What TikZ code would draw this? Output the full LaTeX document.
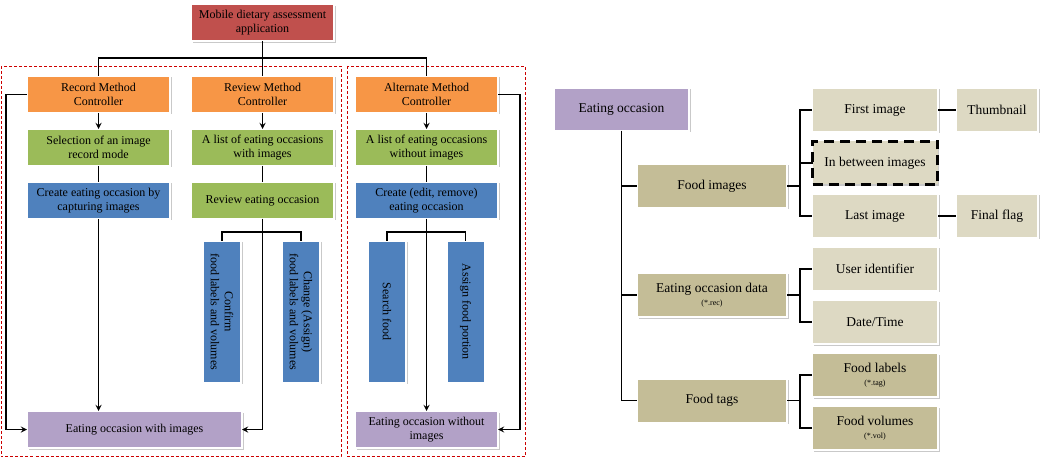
\documentclass[tikz,border=0pt]{standalone}
\usepackage{fontspec}
\setmainfont{Liberation Serif}
\usetikzlibrary{positioning,shadows}

\definecolor{appred}{HTML}{C0504D}
\definecolor{ctrlorange}{HTML}{F79646}
\definecolor{listgreen}{HTML}{9BBB59}
\definecolor{actblue}{HTML}{4F81BD}
\definecolor{occpurple}{HTML}{B2A1C7}
\definecolor{darktan}{HTML}{C4BD97}
\definecolor{lighttan}{HTML}{DDD9C3}

\begin{document}
\begin{tikzpicture}[x=1pt, y=-1pt, node distance=16pt, auto,
  box/.style={draw=white, line width=2pt, outer sep=0pt, inner sep=2pt, align=center,
    font=\fontsize{12}{14}\selectfont,
    drop shadow={shadow xshift=1.5pt, shadow yshift=-1.5pt, opacity=.3, fill=black!70}},
  wide/.style={box, minimum width=143pt, minimum height=37pt},
  appbox/.style={wide, fill=appred},
  ctrlbox/.style={wide, fill=ctrlorange},
  listbox/.style={wide, fill=listgreen},
  actbox/.style={wide, fill=actblue},
  sidebox/.style={box, fill=actblue, rotate=-90, minimum width=142pt, minimum height=38pt},
  occbox/.style={box, fill=occpurple, minimum height=37pt},
  partbox/.style={box, font=\fontsize{13.5}{15}\selectfont, minimum height=44pt},
  tanbox/.style={partbox, fill=darktan, minimum width=150pt},
  leafbox/.style={partbox, fill=lighttan, minimum width=126pt},
  darkleaf/.style={partbox, fill=darktan, minimum width=126pt},
  flagbox/.style={partbox, fill=lighttan, minimum width=82pt},
  link/.style={line width=1.7pt},
  panel/.style={draw=red!80!black, densely dashed, line width=0.6pt}]
\useasboundingbox (0,0) rectangle (1050,465);

% method panels
\draw[panel] (1,66) rectangle (341,456.5);
\draw[panel] (347,66) rectangle (525,456.5);

% application and controllers
\node  (app)[appbox] at (262.5,23) {Mobile dietary assessment\\application};
\node  (rec)[ctrlbox] at (98.5,94.5) {Record Method\\Controller};
\node  (rev)[ctrlbox] at (262.5,94.5) {Review Method\\Controller};
\node  (alt)[ctrlbox] at (426.5,94.5) {Alternate Method\\Controller};
\node  (sel)[listbox] [below = of rec] {Selection of an image\\record mode};
\node  (lwi)[listbox] [below = of rev] {A list of eating occasions\\with images};
\node  (lwo)[listbox] [below = of alt] {A list of eating occasions\\without images};
\node  (cap)[actbox] [below = of sel] {Create eating occasion by\\capturing images};
\node  (revocc)[listbox] [below = of lwi] {Review eating occasion};
\node  (edit)[actbox] [below = of lwo] {Create (edit, remove)\\eating occasion};
\node  (conf)[sidebox] at (222,311.8) {Confirm\\food labels and volumes};
\node  (chg)[sidebox] at (301,311.8) {Change (Assign)\\food labels and volumes};
\node  (srch)[sidebox] at (387,311.8) {Search food};
\node  (asg)[sidebox] at (465.5,311.8) {Assign food portion};
\node  (eowi)[occbox, minimum width=215pt] at (134.5,429.5) {Eating occasion with images};
\node  (eowo)[occbox, minimum width=143pt] at (426.5,429.5) {Eating occasion without\\images};

\draw[link] (app) -- (rev);
\draw[link] (rec.north) -- ++(0,-18) -| (alt.north);
\draw[link, arrows=-stealth] (rec) -- (sel);
\draw[link, arrows=-stealth] (rev) -- (lwi);
\draw[link, arrows=-stealth] (alt) -- (lwo);
\draw[link] (sel) -- (cap);
\draw[link] (lwi) -- (revocc);
\draw[link] (lwo) -- (edit);
\draw[link] (revocc.south) -- ++(0,13) -| (conf.west);
\draw[link] (revocc.south) -- ++(0,13) -| (chg.west);
\draw[link] (edit.south) -- ++(0,13) -| (srch.west);
\draw[link] (edit.south) -- ++(0,13) -| (asg.west);
\draw[link, arrows=-stealth] (rec.west) -- ++(-21,0) |- (eowi.west);
\draw[link, arrows=-stealth] (cap) -- (cap |- eowi.north);
\draw[link, arrows=-stealth] (revocc.south) |- (eowi.east);
\draw[link, arrows=-stealth] (edit) -- (edit |- eowo.north);
\draw[link, arrows=-stealth] (alt.east) -- ++(22,0) |- (eowo.east);

% eating occasion record
\node  (eo)[partbox, fill=occpurple, minimum width=135pt, minimum height=43pt] at (621.5,109.5) {Eating occasion};
\node  (fimg)[tanbox] at (712,186) {Food images};
\node  (eod)[tanbox] at (712,295) {Eating occasion data\\[-2pt]{\fontsize{8}{9}\selectfont(*.rec)}};
\node  (ftag)[tanbox] at (712,400.5) {Food tags};
\node  (first)[leafbox] at (875,110) {First image};
\node  (betw)[partbox, fill=lighttan, draw=black, line width=3pt, dash pattern=on 10pt off 6pt,
  minimum width=125pt, minimum height=43pt] [below = 9.5pt of first] {In between images};
\node  (last)[leafbox] [below = 9.5pt of betw] {Last image};
\node  (user)[leafbox] [below = 9pt of last] {User identifier};
\node  (date)[leafbox] [below = 9pt of user] {Date/Time};
\node  (lbl)[darkleaf] [below = 9pt of date] {Food labels\\[-2pt]{\fontsize{8}{9}\selectfont(*.tag)}};
\node  (vol)[darkleaf] [below = 9pt of lbl] {Food volumes\\[-2pt]{\fontsize{8}{9}\selectfont(*.vol)}};
\node  (thumb)[flagbox] [right = 18pt of first] {Thumbnail};
\node  (flag)[flagbox] [right = 18pt of last] {Final flag};

\draw[link] (eo.south) |- (fimg.west);
\draw[link] (eo.south) |- (eod.west);
\draw[link] (eo.south) |- (ftag.west);
\draw[link] (fimg.east) -- ++(13,0) |- (first.west);
\draw[link] (fimg.east) -- ++(13,0) |- (betw.west);
\draw[link] (fimg.east) -- ++(13,0) |- (last.west);
\draw[link] (eod.east) -- ++(13,0) |- (user.west);
\draw[link] (eod.east) -- ++(13,0) |- (date.west);
\draw[link] (ftag.east) -- ++(13,0) |- (lbl.west);
\draw[link] (ftag.east) -- ++(13,0) |- (vol.west);
\draw[link] (first) -- (thumb);
\draw[link] (last) -- (flag);
\end{tikzpicture}
\end{document}
